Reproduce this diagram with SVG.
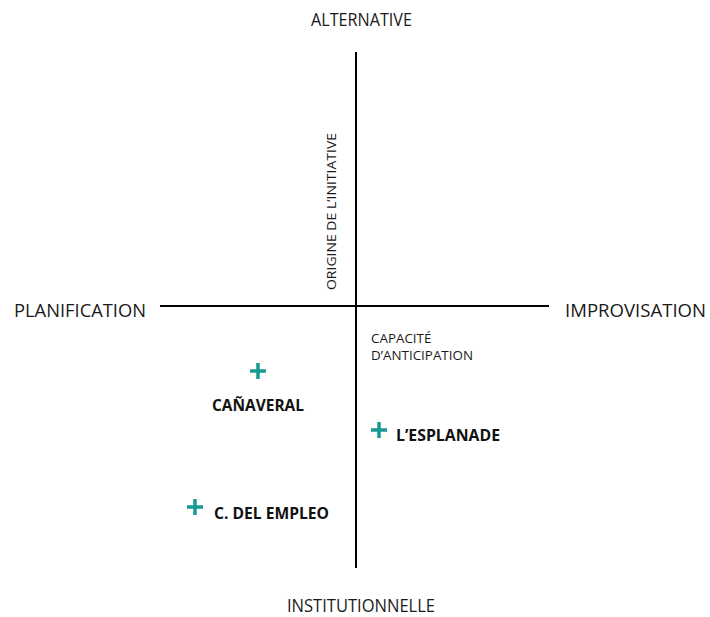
<svg xmlns="http://www.w3.org/2000/svg" width="710" height="617" viewBox="0 0 710 617">
<style>
.ax{font-family:"Open Sans","Liberation Sans",sans-serif;font-size:17.5px;fill:#1a1a1a}
.sm{font-family:"Open Sans","Liberation Sans",sans-serif;font-size:13.4px;fill:#1a1a1a}
.lb{font-family:"Open Sans","Liberation Sans",sans-serif;font-size:15.5px;font-weight:bold;fill:#111}
.axis{stroke:#000;stroke-width:2;fill:none}
.plus{stroke:#1a9a93;stroke-width:3.5;fill:none}
</style>
<rect width="710" height="617" fill="#fff"/>
<g id="connectors">
<line class="axis" x1="356" y1="52" x2="356" y2="568"/>
<line class="axis" x1="160" y1="306" x2="549" y2="306"/>
</g>
<g id="alternative"><text class="ax" x="311" y="26" textLength="101" lengthAdjust="spacingAndGlyphs">ALTERNATIVE</text></g>
<g id="institutionnelle"><text class="ax" x="287" y="612" textLength="148" lengthAdjust="spacingAndGlyphs">INSTITUTIONNELLE</text></g>
<g id="planification"><text class="ax" x="14" y="317" textLength="132" lengthAdjust="spacingAndGlyphs">PLANIFICATION</text></g>
<g id="improvisation"><text class="ax" x="565" y="317" textLength="141" lengthAdjust="spacingAndGlyphs">IMPROVISATION</text></g>
<g id="origine"><text class="sm" transform="translate(336,290) rotate(-90)" textLength="157" lengthAdjust="spacingAndGlyphs">ORIGINE DE L’INITIATIVE</text></g>
<g id="capacite"><text class="sm" x="371" y="343">CAPACITÉ</text><text class="sm" x="371" y="360">D’ANTICIPATION</text></g>
<g id="canaveral"><path class="plus" d="M250 371H266M258 363V379"/><text class="lb" x="212" y="411" textLength="92" lengthAdjust="spacingAndGlyphs">CAÑAVERAL</text></g>
<g id="esplanade"><path class="plus" d="M371 430H387M379 422V438"/><text class="lb" x="396" y="441" textLength="104" lengthAdjust="spacingAndGlyphs">L’ESPLANADE</text></g>
<g id="empleo"><path class="plus" d="M187 507H203M195 499V515"/><text class="lb" x="214" y="519" textLength="115" lengthAdjust="spacingAndGlyphs">C. DEL EMPLEO</text></g>
</svg>
